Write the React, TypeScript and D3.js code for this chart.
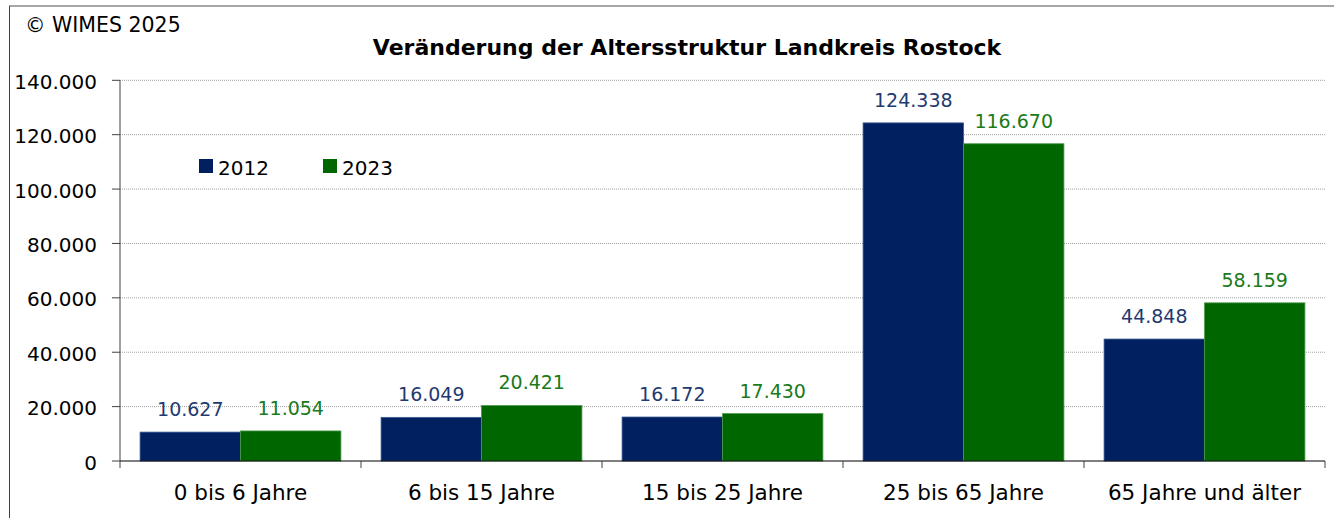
import React from "react";
import * as d3 from "d3";

const categories = ["0 bis 6 Jahre", "6 bis 15 Jahre", "15 bis 25 Jahre", "25 bis 65 Jahre", "65 Jahre und älter"];
const seriesNames = ["2012", "2023"];
const values2012 = [10627, 16049, 16172, 124338, 44848];
const values2023 = [11054, 20421, 17430, 116670, 58159];
const yTicks = [0, 20000, 40000, 60000, 80000, 100000, 120000, 140000];

const barColors = ["#002060", "#006600"];
const edgeColors = ["#3a5a92", "#4c9a4c"];
const labelColors = ["#1f3a70", "#1a7a1a"];

const W = 1334;
const H = 520;
const left = 120;
const right = 1325;
const top = 80.3;
const bottom = 461;
const FONT = "'DejaVu Sans', Verdana, sans-serif";

const de = d3.formatLocale({ decimal: ",", thousands: ".", grouping: [3], currency: ["", " €"] });
const fmt = de.format(",d");

export default function App() {
  const x = d3.scaleBand<string>().domain(categories).range([left, right]).paddingInner(0).paddingOuter(0);
  const xs = d3.scaleBand<string>().domain(seriesNames).range([0, x.bandwidth()]).paddingInner(0).paddingOuter(0.2);
  const y = d3.scaleLinear().domain([0, 140000]).range([bottom, top]);
  const series = [values2012, values2023];
  const bounds = [...categories.map((c) => x(c) as number), right];

  return (
    <svg width={W} height={H} style={{ position: "absolute", left: 0, top: 0, background: "#fff" }} fontFamily={FONT}>
      <rect x={0} y={0} width={W} height={H} fill="#fff" />
      {/* border */}
      <line x1={9} x2={W} y1={6} y2={6} stroke="#a6a6a6" strokeWidth={2} />
      <line x1={9.5} x2={9.5} y1={6} y2={518} stroke="#404040" strokeWidth={1} />

      <text x={25} y={32} fontSize={20.5} fill="#000">© WIMES 2025</text>
      <text x={687} y={55} fontSize={22} fontWeight="bold" textAnchor="middle" fill="#000">
        Veränderung der Altersstruktur Landkreis Rostock
      </text>

      {/* gridlines */}
      {yTicks.filter((t) => t > 0).map((t) => (
        <line key={"g" + t} x1={left} x2={right} y1={y(t)} y2={y(t)} stroke="#a0a0a0" strokeWidth={1} strokeDasharray="1,1" />
      ))}

      {/* bars */}
      {series.map((vals, si) =>
        vals.map((v, ci) => {
          const bx = (x(categories[ci]) as number) + (xs(seriesNames[si]) as number);
          return (
            <rect
              key={`b${si}-${ci}`}
              x={bx}
              y={y(v)}
              width={xs.bandwidth()}
              height={bottom - y(v)}
              fill={barColors[si]}
              stroke={edgeColors[si]}
              strokeWidth={0.8}
            />
          );
        })
      )}

      {/* data labels */}
      {series.map((vals, si) =>
        vals.map((v, ci) => {
          const cx = (x(categories[ci]) as number) + (xs(seriesNames[si]) as number) + xs.bandwidth() / 2;
          return (
            <text key={`l${si}-${ci}`} x={cx} y={y(v) - 16} fontSize={19} textAnchor="middle" fill={labelColors[si]}>
              {fmt(v)}
            </text>
          );
        })
      )}

      {/* y axis */}
      <line x1={left} x2={left} y1={top} y2={bottom} stroke="#404040" strokeWidth={1} />
      {yTicks.map((t) => (
        <g key={"y" + t}>
          <line x1={112} x2={left} y1={y(t)} y2={y(t)} stroke="#404040" strokeWidth={1} />
          <text x={97} y={y(t) + 8.5} fontSize={20} textAnchor="end" fill="#000">
            {fmt(t)}
          </text>
        </g>
      ))}

      {/* x axis */}
      <line x1={left} x2={right} y1={bottom} y2={bottom} stroke="#000" strokeWidth={1.2} />
      {bounds.map((b, i) => (
        <line key={"xt" + i} x1={b} x2={b} y1={bottom} y2={468} stroke="#404040" strokeWidth={1} />
      ))}
      {categories.map((c) => (
        <text key={c} x={(x(c) as number) + x.bandwidth() / 2} y={500} fontSize={21.5} textAnchor="middle" fill="#000">
          {c}
        </text>
      ))}

      {/* legend */}
      {seriesNames.map((s, i) => (
        <g key={"lg" + s} transform={`translate(${199 + i * 124},159)`}>
          <rect x={0} y={0} width={14} height={14} fill={barColors[i]} />
          <text x={19} y={16} fontSize={20} fill="#000">{s}</text>
        </g>
      ))}
    </svg>
  );
}
